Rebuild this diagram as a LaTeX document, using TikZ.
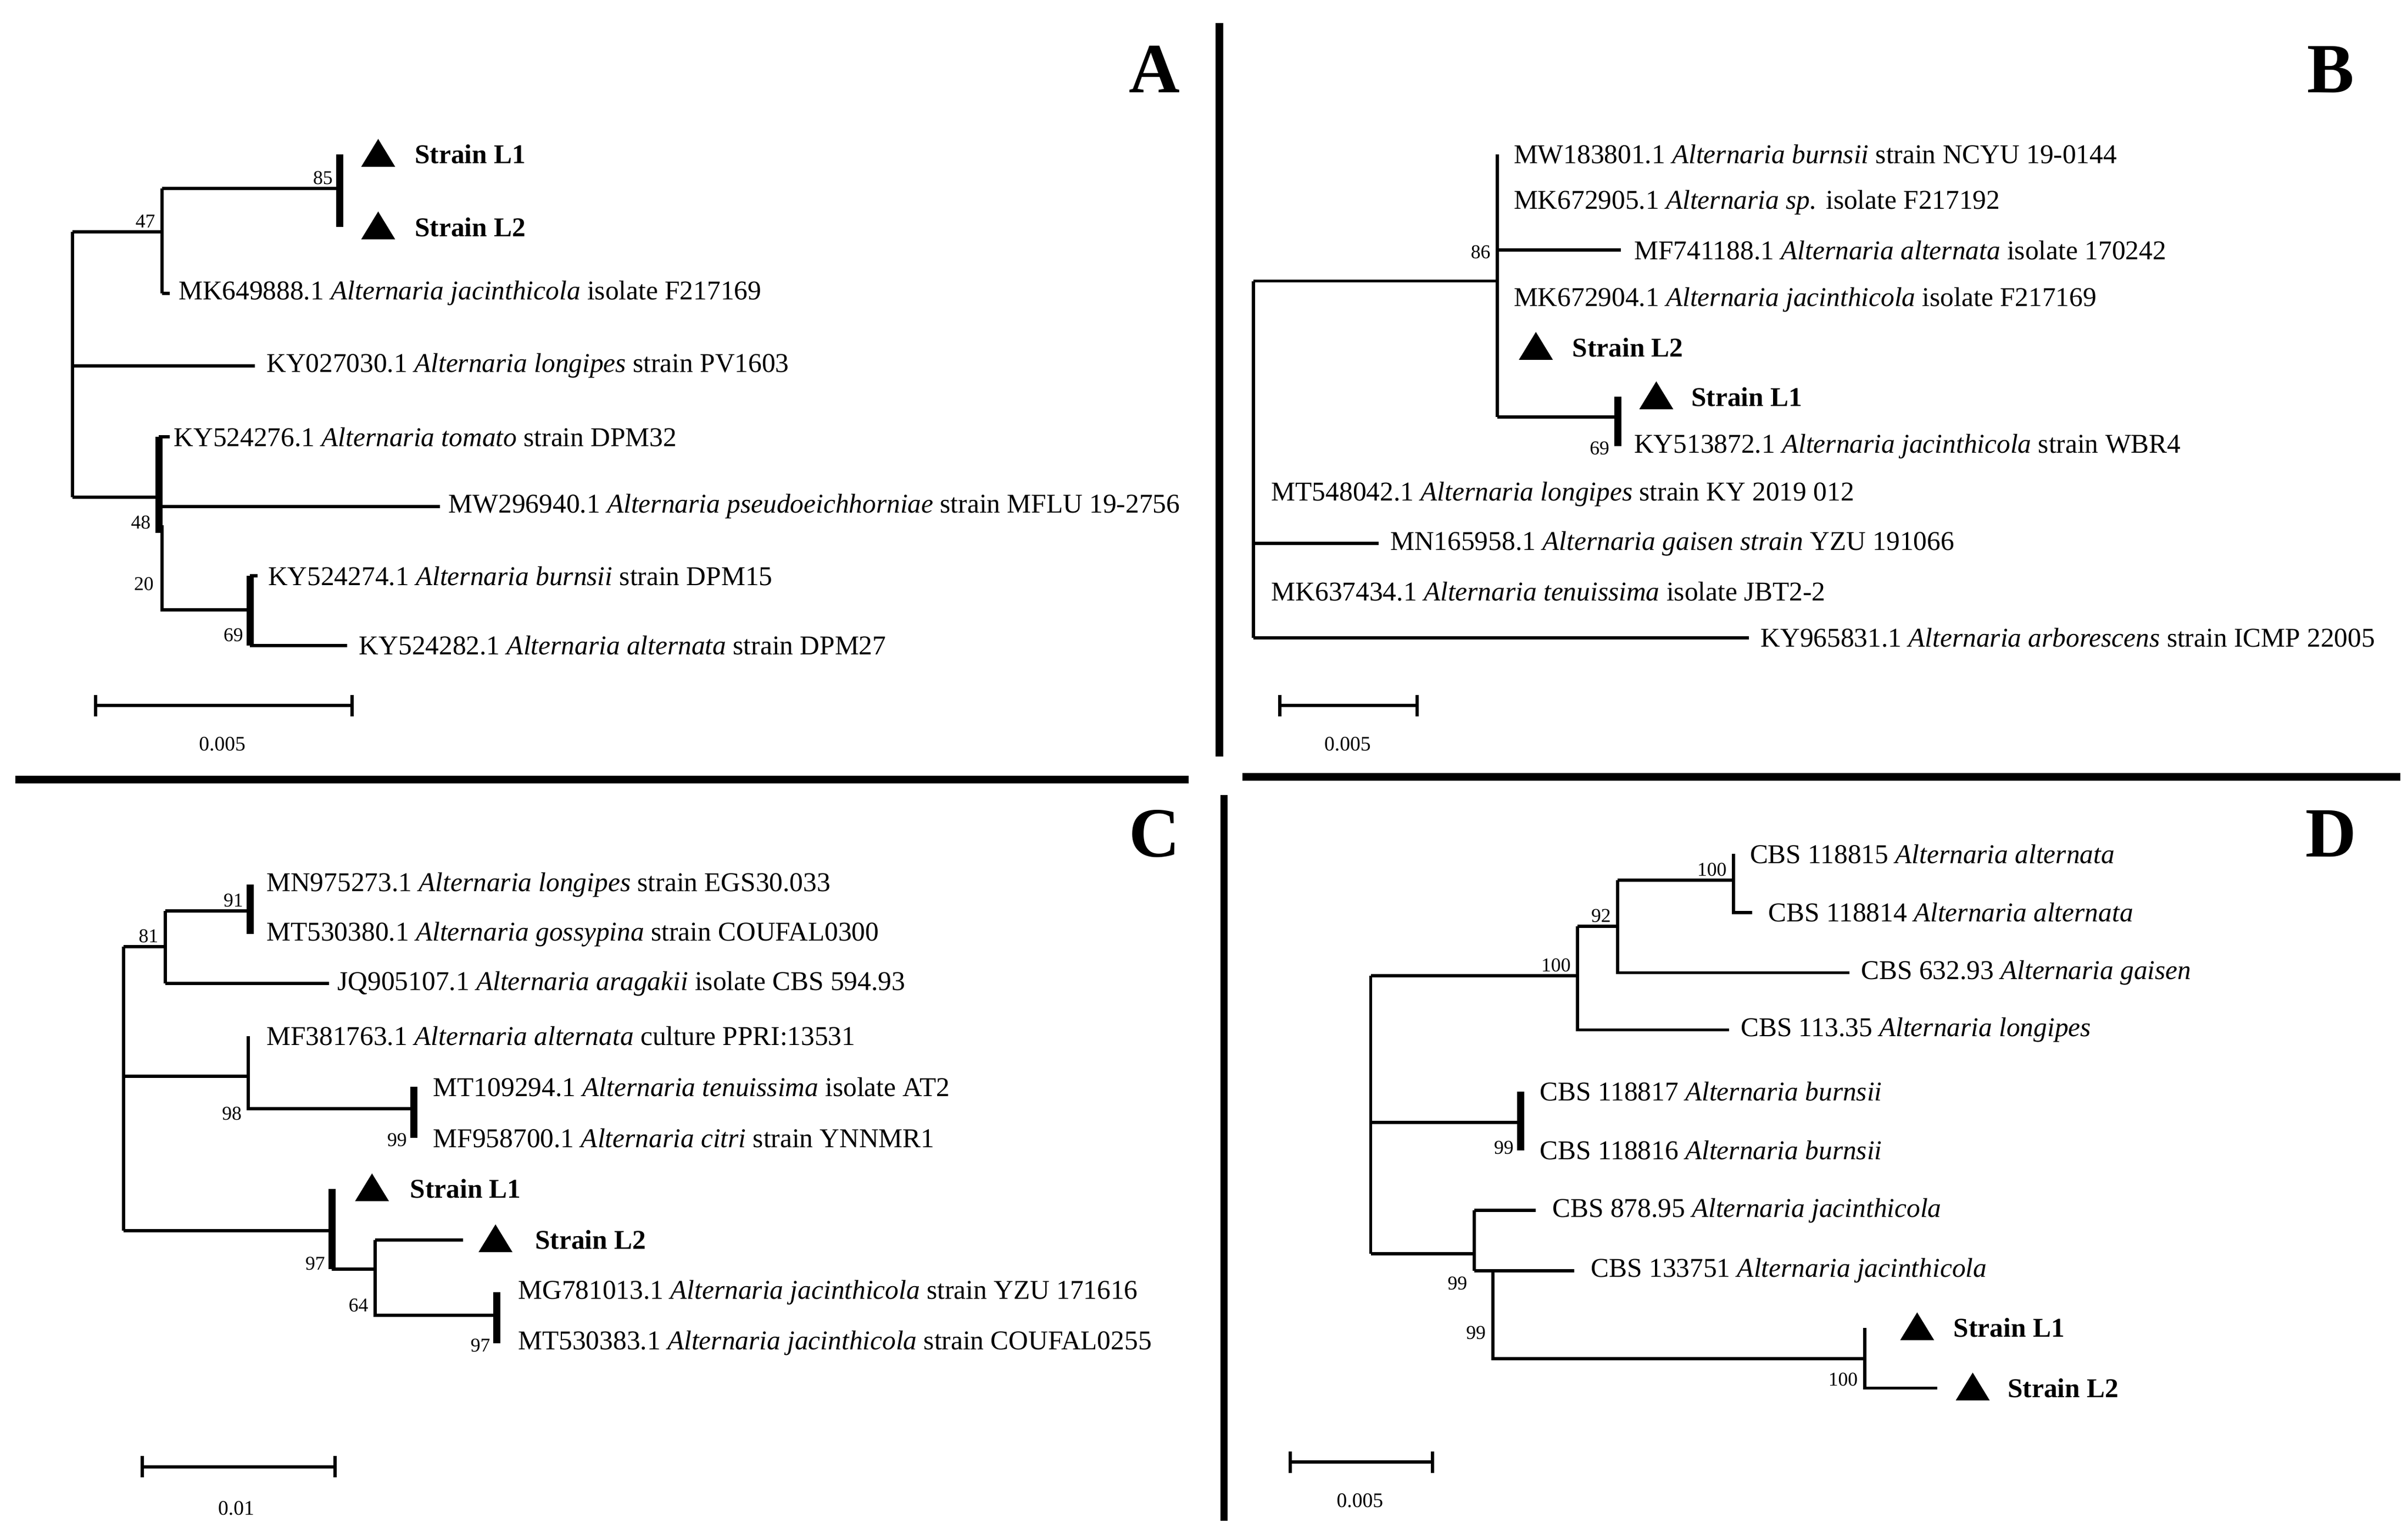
\documentclass[tikz,border=0pt]{standalone}
\usepackage{fontspec}
\setmainfont{Liberation Serif}
\tikzset{
  br/.style={line width=0.6pt},
  clade/.style={line width=1.3pt},
  sep/.style={line width=1.4pt},
  taxon/.style={anchor=west, inner sep=0pt, font=\fontsize{5}{6}\selectfont},
  strain/.style={anchor=west, inner sep=0pt, font=\fontsize{5}{6}\selectfont\bfseries},
  boot/.style={anchor=south east, inner sep=0.5pt, font=\fontsize{3.6}{4}\selectfont},
  panel/.style={inner sep=0pt, font=\fontsize{13}{14}\selectfont\bfseries},
  scalelab/.style={inner sep=0pt, font=\fontsize{3.8}{4}\selectfont},
}
\newcommand{\tri}[1]{\fill (#1) ++(-11,8) -- ++(22,0) -- ++(-11,-18) -- cycle;}
\begin{document}
\begin{tikzpicture}[x=0.01cm,y=-0.01cm]
\useasboundingbox (0,0) rectangle (1560,990);
% separators
\draw[sep] (790,15) -- (790,490);
\draw[sep] (793,515) -- (793,985);
\draw[sep] (10,505) -- (770,505);
\draw[sep] (805,503) -- (1555,503);
\node[panel] (pA) at (748,45) {A};
\node[panel] (pB) at (1510,45) {B};
\node[panel] (pC) at (748,540) {C};
\node[panel] (pD) at (1510,540) {D};

% --- tree A ---
\draw[br] (47,150) -- (47,322);
\draw[br] (47,150) -- (105,150) (105,122) -- (105,190);
\draw[br] (105,122) -- (220,122);
\draw[clade] (220,100) -- (220,147);
\draw[br] (105,190) -- (110,190);
\draw[br] (47,237) -- (165,237);
\draw[br] (47,322) -- (103,322);
\draw[clade] (103,283) -- (103,345);
\draw[br] (103,283) -- (110,283);
\draw[br] (103,328) -- (285,328);
\draw[br] (105,340) -- (105,395) -- (162,395);
\draw[clade] (162,373) -- (162,418);
\draw[br] (162,373) -- (167,373) (162,418) -- (225,418);
\node[boot] at (103,150) {47};
\node[boot] at (218,122) {85};
\node[boot] at (100,345) {48};
\node[boot] at (102,385) {20};
\node[boot] at (160,418) {69};
\tri{245,100} \node[strain] (aL1) at (268,100) {Strain L1};
\tri{245,147} \node[strain] (aL2) at (268,147) {Strain L2};
\node[taxon] (a1) at (115,190) {MK649888.1 \textit{Alternaria jacinthicola} isolate F217169};
\node[taxon] (a2) at (172,237) {KY027030.1 \textit{Alternaria longipes} strain PV1603};
\node[taxon] (a3) at (112,283) {KY524276.1 \textit{Alternaria tomato} strain DPM32};
\node[taxon] (a4) at (290,328) {MW296940.1 \textit{Alternaria pseudoeichhorniae} strain MFLU 19-2756};
\node[taxon] (a5) at (173,373) {KY524274.1 \textit{Alternaria burnsii} strain DPM15};
\node[taxon] (a6) at (232,418) {KY524282.1 \textit{Alternaria alternata} strain DPM27};
\draw[br] (62,457) -- (228,457) (62,450) -- (62,464) (228,450) -- (228,464);
\node[scalelab] at (144,482) {0.005};

% --- tree B ---
\draw[br] (812,182) -- (812,413);
\draw[br] (812,182) -- (970,182) (970,100) -- (970,270);
\draw[br] (970,162) -- (1050,162);
\draw[br] (970,270) -- (1048,270);
\draw[clade] (1048,257) -- (1048,289);
\draw[br] (812,352) -- (893,352) (812,413) -- (1133,413);
\node[boot] at (968,170) {86};
\node[boot] at (1045,297) {69};
\node[taxon] (b1) at (980,100) {MW183801.1 \textit{Alternaria burnsii} strain NCYU 19-0144};
\node[taxon] (b2) at (980,131) {MK672905.1 \textit{Alternaria sp.} isolate F217192};
\node[taxon] (b3) at (1058,162) {MF741188.1 \textit{Alternaria alternata} isolate 170242};
\node[taxon] (b4) at (980,194) {MK672904.1 \textit{Alternaria jacinthicola} isolate F217169};
\tri{995,225} \node[strain] (bL2) at (1018,225) {Strain L2};
\tri{1073,257} \node[strain] (bL1) at (1095,257) {Strain L1};
\node[taxon] (b5) at (1058,289) {KY513872.1 \textit{Alternaria jacinthicola} strain WBR4};
\node[taxon] (b6) at (823,320) {MT548042.1 \textit{Alternaria longipes} strain KY 2019 012};
\node[taxon] (b7) at (900,352) {MN165958.1 \textit{Alternaria gaisen strain} YZU 191066};
\node[taxon] (b8) at (823,383) {MK637434.1 \textit{Alternaria tenuissima} isolate JBT2-2};
\node[taxon] (b9) at (1140,413) {KY965831.1 \textit{Alternaria arborescens} strain ICMP 22005};
\draw[br] (829,457) -- (918,457) (829,450) -- (829,464) (918,450) -- (918,464);
\node[scalelab] at (873,482) {0.005};

% --- tree C ---
\draw[br] (80,613) -- (80,797);
\draw[br] (80,613) -- (107,613) (107,590) -- (107,637);
\draw[br] (107,590) -- (162,590) (107,637) -- (213,637);
\draw[clade] (162,573) -- (162,605);
\draw[br] (80,697) -- (161,697) (161,671) -- (161,718) -- (268,718);
\draw[clade] (268,704) -- (268,737);
\draw[br] (80,797) -- (215,797);
\draw[clade] (215,770) -- (215,822);
\draw[br] (215,822) -- (243,822) (243,803) -- (243,852) -- (322,852);
\draw[br] (243,803) -- (300,803);
\draw[clade] (322,837) -- (322,870);
\node[boot] at (105,613) {81};
\node[boot] at (160,590) {91};
\node[boot] at (159,728) {98};
\node[boot] at (266,745) {99};
\node[boot] at (213,825) {97};
\node[boot] at (241,852) {64};
\node[boot] at (320,878) {97};
\node[taxon] (c1) at (172,573) {MN975273.1 \textit{Alternaria longipes} strain EGS30.033};
\node[taxon] (c2) at (172,605) {MT530380.1 \textit{Alternaria gossypina} strain COUFAL0300};
\node[taxon] (c3) at (218,637) {JQ905107.1 \textit{Alternaria aragakii} isolate CBS 594.93};
\node[taxon] (c4) at (172,671) {MF381763.1 \textit{Alternaria alternata} culture PPRI:13531};
\node[taxon] (c5) at (280,704) {MT109294.1 \textit{Alternaria tenuissima} isolate AT2};
\node[taxon] (c6) at (280,737) {MF958700.1 \textit{Alternaria citri} strain YNNMR1};
\tri{241,770} \node[strain] (cL1) at (265,770) {Strain L1};
\tri{321,803} \node[strain] (cL2) at (346,803) {Strain L2};
\node[taxon] (c7) at (335,837) {MG781013.1 \textit{Alternaria jacinthicola} strain YZU 171616};
\node[taxon] (c8) at (335,870) {MT530383.1 \textit{Alternaria jacinthicola} strain COUFAL0255};
\draw[br] (92,950) -- (217,950) (92,943) -- (92,957) (217,943) -- (217,957);
\node[scalelab] at (153,977) {0.01};

% --- tree D ---
\draw[br] (888,632) -- (888,812);
\draw[br] (888,632) -- (1022,632) (1022,600) -- (1022,667) -- (1120,667);
\draw[br] (1022,600) -- (1048,600) (1048,570) -- (1048,630) -- (1198,630);
\draw[br] (1048,570) -- (1123,570) (1123,553) -- (1123,591) -- (1135,591);
\draw[br] (888,727) -- (985,727);
\draw[clade] (985,707) -- (985,745);
\draw[br] (888,812) -- (955,812) (955,784) -- (955,823) (955,784) -- (995,784);
\draw[br] (955,823) -- (967,823) (967,823) -- (967,880) -- (1208,880);
\draw[br] (967,823) -- (1020,823);
\draw[br] (1208,860) -- (1208,899) -- (1255,899);
\node[boot] at (1020,632) {100};
\node[boot] at (1046,600) {92};
\node[boot] at (1121,570) {100};
\node[boot] at (983,750) {99};
\node[boot] at (953,838) {99};
\node[boot] at (965,870) {99};
\node[boot] at (1206,900) {100};
\node[taxon] (d1) at (1133,553) {CBS 118815 \textit{Alternaria alternata}};
\node[taxon] (d2) at (1145,591) {CBS 118814 \textit{Alternaria alternata}};
\node[taxon] (d3) at (1205,630) {CBS 632.93 \textit{Alternaria gaisen}};
\node[taxon] (d4) at (1127,667) {CBS 113.35 \textit{Alternaria longipes}};
\node[taxon] (d5) at (997,707) {CBS 118817 \textit{Alternaria burnsii}};
\node[taxon] (d6) at (997,745) {CBS 118816 \textit{Alternaria burnsii}};
\node[taxon] (d7) at (1005,784) {CBS 878.95 \textit{Alternaria jacinthicola}};
\node[taxon] (d8) at (1030,823) {CBS 133751 \textit{Alternaria jacinthicola}};
\tri{1242,860} \node[strain] (dL1) at (1265,860) {Strain L1};
\tri{1278,899} \node[strain] (dL2) at (1300,899) {Strain L2};
\draw[br] (836,947) -- (928,947) (836,940) -- (836,954) (928,940) -- (928,954);
\node[scalelab] at (881,972) {0.005};
\end{tikzpicture}
\end{document}
